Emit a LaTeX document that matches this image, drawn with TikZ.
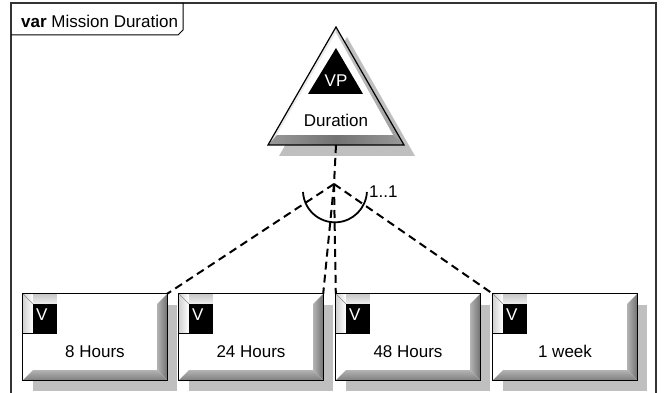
\documentclass[tikz,border=0pt]{standalone}
\usepackage{fontspec}
\setmainfont{Liberation Sans}
\usetikzlibrary{calc}
\begin{document}
\begin{tikzpicture}[x=1pt,y=-1pt,
  every node/.style={font=\fontsize{17}{20}\selectfont},
  frameline/.style={draw=black!80,line width=1.2pt},
  shadowc/.style={fill=black!25},
  vbox/.style={fill=white,minimum width=144pt,minimum height=86pt,inner sep=0pt},
  outline/.style={draw=black,line width=1.3pt},
  conn/.style={line width=2pt,dash pattern=on 8pt off 5pt},
  lbl/.style={inner sep=0pt},
]
\useasboundingbox (0,0) rectangle (665,393);

% frame and tab
\draw[frameline] (11,400) -- (11,3) -- (656,3) -- (656,400);
\draw[line width=1pt] (11,35) -- (178,35) -- (183,30) -- (183,3);
\node[lbl,anchor=base west] (title) at (21,28) {\textbf{var} Mission Duration};

% variation point triangle
\fill[shadowc] (347,37) -- (279,156) -- (415,156) -- cycle;
\fill[black!8] (336,27) -- (268,145) -- (277,135) -- (336,33) -- cycle;
\shade[left color=black!20,right color=black!40] (336,27) -- (404,145) -- (393,135) -- (336,33) -- cycle;
\shade[left color=black!40,right color=black!40,middle color=black!55] (268,145) -- (404,145) -- (393,135) -- (277,135) -- cycle;
\fill[white] (336,33) -- (277,135) -- (393,135) -- cycle;
\fill[black] (336,48) -- (308,94) -- (363,94) -- cycle;
\draw[line width=1.2pt,line join=miter] (336,27) -- (268,145) -- (404,145) -- cycle;
\node[lbl,text=white,anchor=base] (vp) at (336,87) {VP};
\node[lbl,anchor=base] (dur) at (336,127) {Duration};
\coordinate (vpb) at (336,145);

% shadows of variants
\foreach \L in {23,179,336,493}{
  \fill[shadowc] (\L+10,305) rectangle (\L+154,391);
}

% variant boxes
\foreach \L/\n/\t in {23/b1/8 Hours,179/b2/24 Hours,336/b3/48 Hours,493/b4/1 week}{
  \node[vbox] (\n) at (\L+72,337) {};
  \shade[left color=black!30,right color=black!55] ($(\n.north east)+(-10,10)$) -- (\n.north east) -- (\n.south east) -- ($(\n.south east)+(-10,-10)$) -- cycle;
  \shade[top color=black!30,bottom color=black!50] ($(\n.south west)+(10,-10)$) -- ($(\n.south east)+(-10,-10)$) -- (\n.south east) -- (\n.south west) -- cycle;
  \shade[top color=black!22,bottom color=black!6] (\n.north west) rectangle ($(\n.north west)+(34,10)$);
  \shade[left color=black!18,right color=white] (\n.north west) rectangle ($(\n.north west)+(10,40)$);
  \fill[black] ($(\n.north west)+(10,10)$) rectangle ($(\n.north west)+(34,40)$);
  \draw[black!45,line width=0.6pt] (\n.north west) -- ($(\n.north west)+(10,10)$);
  \draw[line width=1pt] ($(\n.north west)+(0,40)$) -- ($(\n.north west)+(34,40)$);
  \node[lbl,text=white,anchor=base west] (v\n) at ($(\n.north west)+(13,27)$) {V};
  \node[lbl,anchor=base] (t\n) at ($(\n.center)+(0,20)$) {\t};
  \draw[outline] (\n.north west) rectangle (\n.south east);
}

% connectors
\coordinate (J) at (334,184);
\draw[conn] (vpb) -- (J);
\draw[conn] (J) -- (b1.north east);
\draw[conn] (J) -- (b2.north east);
\draw[conn] (J) -- (b3.north west);
\draw[conn] (J) -- (b4.north west);
\draw[line width=1.8pt] (303,192) arc[start angle=177,end angle=3,radius=32];
\node[lbl,anchor=base west] (mult) at (369,198) {1..1};
\end{tikzpicture}
\end{document}
